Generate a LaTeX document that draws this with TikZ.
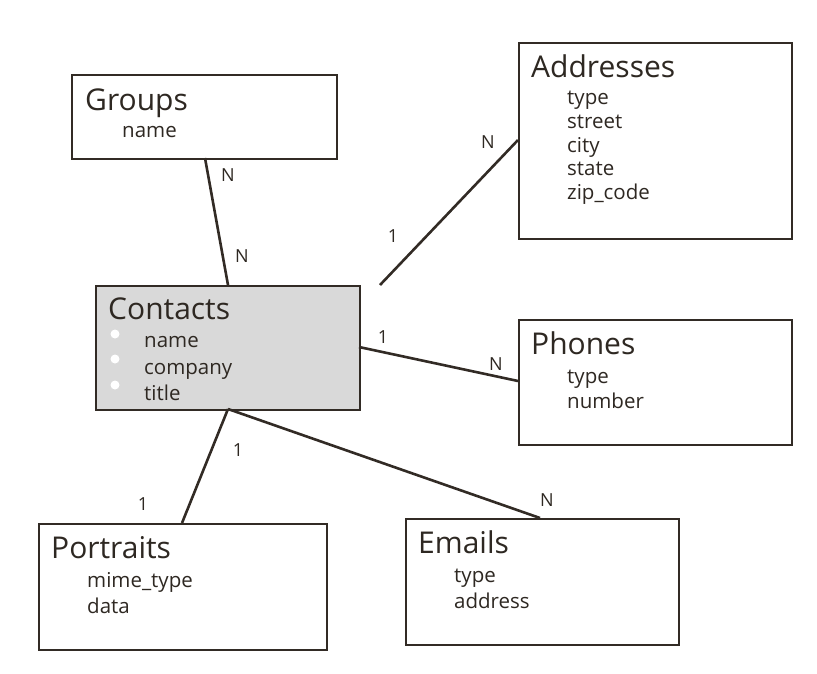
\documentclass[tikz,border=0pt]{standalone}
\usepackage{fontspec}
\setmainfont{Open Sans}
\definecolor{ink}{RGB}{46,40,34}
\definecolor{edge}{RGB}{50,43,37}
\definecolor{boxgray}{RGB}{217,217,217}
\begin{document}
\begin{tikzpicture}[x=1pt,y=-1pt,
  box/.style={draw=edge,line width=1.8pt,anchor=north west,inner sep=0pt,fill=white},
  ttl/.style={anchor=base west,inner sep=0pt,text=ink,font=\fontsize{30}{30}\selectfont},
  attr/.style={anchor=base west,inner sep=0pt,text=ink,font=\fontsize{20.5}{20.5}\selectfont},
  card/.style={inner sep=0pt,text=ink,font=\fontsize{18}{18}\selectfont},
  link/.style={draw=edge,line width=2.6pt},
  dot/.style={circle,fill=white,inner sep=0pt,minimum size=9pt}]
\useasboundingbox (0,0) rectangle (817,673);
% boxes
\node[box,minimum width=265pt,minimum height=84pt] (groups) at (71,74) {};
\node[box,minimum width=273pt,minimum height=196pt] (addr) at (518,42) {};
\node[box,fill=boxgray,minimum width=264pt,minimum height=124pt] (contacts) at (95,285) {};
\node[box,minimum width=273pt,minimum height=125pt] (phones) at (518,319) {};
\node[box,minimum width=288pt,minimum height=126pt] (portraits) at (38,523) {};
\node[box,minimum width=273pt,minimum height=126pt] (emails) at (405,518) {};
% titles
\node[ttl] (tg) at (85,110) {Groups};
\node[ttl] (ta) at (531,77) {Addresses};
\node[ttl] (tc) at (108,319) {Contacts};
\node[ttl] (tp) at (531,354) {Phones};
\node[ttl] (tpo) at (51,558) {Portraits};
\node[ttl] (te) at (418,553) {Emails};
% attributes
\node[attr] (g1) at (122,137) {name};
\node[attr] (a1) at (567,104) {type};
\node[attr] (a2) at (567,128) {street};
\node[attr] (a3) at (567,152) {city};
\node[attr] (a4) at (567,175) {state};
\node[attr] (a5) at (567,199) {zip\_code};
\node[attr] (c1) at (144,347) {name};
\node[attr] (c2) at (144,374) {company};
\node[attr] (c3) at (144,400) {title};
\node[dot] (d1) at (115,334) {};
\node[dot] (d2) at (115,359) {};
\node[dot] (d3) at (115,385) {};
\node[attr] (p1) at (567,383) {type};
\node[attr] (p2) at (567,408) {number};
\node[attr] (po1) at (87,587) {mime\_type};
\node[attr] (po2) at (87,613) {data};
\node[attr] (e1) at (454,582) {type};
\node[attr] (e2) at (454,608) {address};
% connector end points
\coordinate (gS) at (205,158);
\coordinate (cN) at (228,285);
\coordinate (aFree) at (380,285);
\coordinate (aW) at (518,140);
\coordinate (cE) at (359,347);
\coordinate (pW) at (518,381);
\coordinate (cS) at (228,409);
\coordinate (poN) at (182,523);
\coordinate (eN) at (540,518);
\draw[link] (gS) -- (cN);
\draw[link] (aFree) -- (aW);
\draw[link] (cE) -- (pW);
\draw[link] (cS) -- (poN);
\draw[link] (cS) -- (eN);
% cardinalities
\node[card] (l1) at (228,175) {N};
\node[card] (l2) at (242,256) {N};
\node[card] (l3) at (393,236) {1};
\node[card] (l4) at (488,142) {N};
\node[card] (l5) at (383,337) {1};
\node[card] (l6) at (496,364) {N};
\node[card] (l7) at (238,450) {1};
\node[card] (l8) at (143,504) {1};
\node[card] (l9) at (547,500) {N};
\end{tikzpicture}
\end{document}
